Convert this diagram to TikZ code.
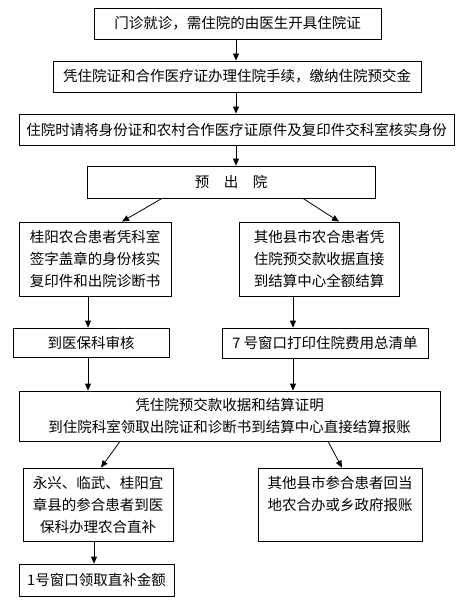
\documentclass[tikz,border=0pt]{standalone}
\usepackage{fontspec}
\setmainfont{Noto Sans CJK SC}
\usetikzlibrary{arrows.meta,calc}

\begin{document}
\begin{tikzpicture}[x=1pt,y=-1pt]
          \tikzstyle{box}=[draw, line width=0.8pt, inner sep=0pt, align=center, font=\fontsize{14.5}{22}\selectfont]
          \tikzstyle{arr}=[line width=0.8pt, -{Triangle[length=7pt,width=6pt]}]
          \useasboundingbox (0,0) rectangle (463,601);
          \node[box, minimum width=287, minimum height=31] (menzhen) at (237.5,23.5) {门诊就诊，需住院的由医生开具住院证};
          \node[box, minimum width=368, minimum height=31] (shouxu) at (237,76.5) {凭住院证和合作医疗证办理住院手续，缴纳住院预交金};
          \node[box, minimum width=435, minimum height=31] (shenfen) at (236.5,129.5) {住院时请将身份证和农村合作医疗证原件及复印件交科室核实身份};
          \node[box, minimum width=288, minimum height=32] (yuchu) at (231,182) {预　出　院};
          \node[box, minimum width=152, minimum height=74] (guiyang) at (95,259) {桂阳农合患者凭科室\\签字盖章的身份核实\\复印件和出院诊断书};
          \node[box, minimum width=160, minimum height=74] (qita) at (319,259) {其他县市农合患者凭\\住院预交款收据直接\\到结算中心全额结算};
          \node[box, minimum width=156, minimum height=29] (yibao) at (91,342.5) {到医保科审核};
          \node[box, minimum width=206, minimum height=30] (qingdan) at (325,343) {7 号窗口打印住院费用总清单};
          \node[box, minimum width=421, minimum height=50] (jiesuan) at (229.5,416) {凭住院预交款收据和结算证明\\到住院科室领取出院证和诊断书到结算中心直接结算报账};
          \node[box, minimum width=150, minimum height=73] (zhibu) at (98,504.5) {永兴、临武、桂阳宜\\章县的参合患者到医\\保科办理农合直补};
          \node[box, minimum width=164, minimum height=73] (dangdi) at (340,504.5) {其他县市参合患者回当\\地农合办或乡政府报账\\\mbox{}};
          \node[box, minimum width=155, minimum height=32] (lingqu) at (96.5,580) {1号窗口领取直补金额};
          % connectors
          \draw[arr] ($(menzhen.south)+(-1.5,0)$) -- ($(shouxu.north)+(-1,0)$);
          \draw[arr] ($(shouxu.south)+(-1,0)$) -- ($(shenfen.north)+(-0.5,0)$);
          \draw[arr] ($(shenfen.south)+(-0.5,0)$) -- ($(yuchu.north)+(5,0)$);
          \draw[arr] ($(yuchu.south)+(-69,0)$) -- ($(guiyang.north)+(27,0)$);
          \draw[arr] ($(yuchu.south)+(72,0)$) -- ($(qita.north)+(20,0)$);
          \draw[arr] ($(guiyang.south)+(-7,0)$) -- ($(yibao.north)+(-3,0)$);
          \draw[arr] ($(qita.south)+(-26,0)$) -- ($(qingdan.north)+(-32,0)$);
          \draw[arr] ($(yibao.south)+(-3,0)$) -- ($(jiesuan.north)+(-141.5,0)$);
          \draw[arr] ($(qingdan.south)+(-32,0)$) -- ($(jiesuan.north)+(63.5,0)$);
          \draw[arr] ($(jiesuan.south)+(-109.5,0)$) -- ($(zhibu.north)+(3,0)$);
          \draw[arr] ($(jiesuan.south)+(98.5,0)$) -- ($(dangdi.north)+(2,0)$);
          \draw[arr] ($(zhibu.south)+(-4,0)$) -- ($(lingqu.north)+(-2.5,0)$);
      \end{tikzpicture}
\end{document}
